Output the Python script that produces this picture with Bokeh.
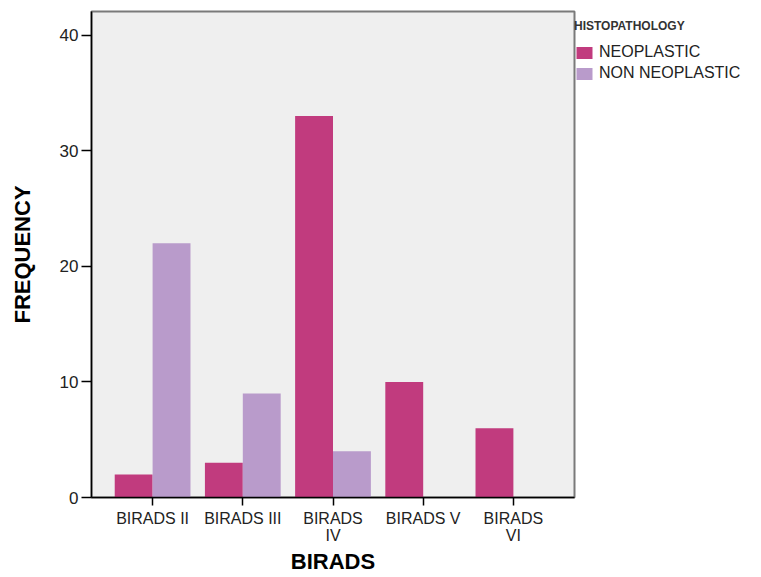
from bokeh.plotting import figure
from bokeh.models import ColumnDataSource, Legend, LegendItem, FactorRange
from bokeh.transform import dodge
from bokeh.embed import file_html
from bokeh.resources import INLINE

categories = ["BIRADS II", "BIRADS III", "BIRADS\nIV", "BIRADS V", "BIRADS\nVI"]
neoplastic = [2, 3, 33, 10, 6]
non_neoplastic = [22, 9, 4, 0, 0]
y_ticks = [0, 10, 20, 30, 40]
legend_title = "HISTOPATHOLOGY"
series_names = ["NEOPLASTIC", "NON NEOPLASTIC"]

NEO_COLOR = "#c13b7e"
NON_COLOR = "#b99bcb"
FONT = "Liberation Sans"

src = ColumnDataSource(dict(cat=categories, neo=neoplastic, non=non_neoplastic))

p = figure(
    x_range=FactorRange(*categories, range_padding=0.071),
    y_range=(0, 42.05),
    frame_width=483, frame_height=486,
    min_border_left=91, min_border_right=187, min_border_top=11, min_border_bottom=80,
    output_backend="svg", toolbar_location=None,
)
p.background_fill_color = "#efefef"
p.border_fill_color = "white"
p.outline_line_color = "#7a7a7a"
p.outline_line_width = 2
p.grid.visible = False

bw = 0.42
r1 = p.vbar(x=dodge("cat", -bw / 2, range=p.x_range), top="neo", width=bw, source=src,
            fill_color=NEO_COLOR, line_color=None)
r2 = p.vbar(x=dodge("cat", bw / 2, range=p.x_range), top="non", width=bw, source=src,
            fill_color=NON_COLOR, line_color=None)

# axes
p.yaxis.ticker = y_ticks
p.yaxis.minor_tick_line_color = None
p.yaxis.major_tick_in = 0
p.yaxis.major_tick_out = 10
p.yaxis.major_label_standoff = 3
p.yaxis.axis_line_color = "black"
p.yaxis.axis_line_width = 1.5
p.yaxis.major_tick_line_width = 1.5
p.yaxis.major_label_text_font = FONT
p.yaxis.major_label_text_font_size = "17px"
p.yaxis.major_label_text_color = "#222222"
p.yaxis.axis_label = "FREQUENCY"
p.yaxis.axis_label_text_font = FONT
p.yaxis.axis_label_text_font_style = "bold"
p.yaxis.axis_label_text_font_size = "22px"
p.yaxis.axis_label_text_color = "black"
p.yaxis.axis_label_standoff = 22

p.xaxis.major_tick_in = 0
p.xaxis.major_tick_out = 8
p.xaxis.major_tick_line_width = 1.5
p.xaxis.axis_line_color = "black"
p.xaxis.axis_line_width = 1.5
p.xaxis.major_label_standoff = 4
p.xaxis.major_label_text_font = FONT
p.xaxis.major_label_text_font_size = "16px"
p.xaxis.major_label_text_line_height = 1.0
p.xaxis.major_label_text_color = "#222222"
p.xaxis.axis_label = "BIRADS"
p.xaxis.axis_label_text_font = FONT
p.xaxis.axis_label_text_font_style = "bold"
p.xaxis.axis_label_text_font_size = "22px"
p.xaxis.axis_label_text_line_height = 1.0
p.xaxis.axis_label_text_color = "black"
p.xaxis.axis_label_standoff = 2

legend = Legend(
    items=[LegendItem(label=series_names[0], renderers=[r1]),
           LegendItem(label=series_names[1], renderers=[r2])],
    location=(0, 415),
    orientation="vertical",
    title=legend_title,
    title_text_font=FONT, title_text_font_size="12px", title_text_font_style="bold",
    title_text_color="#333333", title_standoff=10,
    border_line_color=None,
    background_fill_alpha=0,
    padding=0, margin=0, spacing=3,
    glyph_width=20, glyph_height=15, label_height=15,
    label_standoff=5,
    label_text_font=FONT, label_text_font_size="16px", label_text_color="#222222",
)
p.add_layout(legend, "right")

open("out.html", "w").write(file_html(p, INLINE))
